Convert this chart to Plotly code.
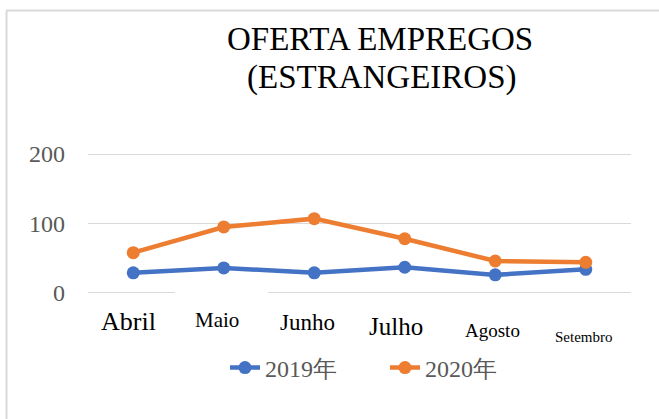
import plotly.graph_objects as go

months = ["Abril", "Maio", "Junho", "Julho", "Agosto", "Setembro"]
y2019 = [29, 36, 29, 37, 26, 34]
y2020 = [58, 95, 107, 78, 46, 44]
series_names = ["2019年", "2020年"]
y_ticks = [0, 100, 200]
title_lines = ["OFERTA EMPREGOS", "(ESTRANGEIROS)"]

# styling (not data)
label_sizes = [26, 21, 23, 25, 19, 15]
label_offsets = [-0.187, -0.173, -0.194, -0.223, -0.245, -0.295]
label_xshift = [-5, -7, -7, -9, -3, -2]
title_centers = [(380, 39), (382, 77)]
SERIF = "Liberation Serif, DejaVu Serif, Times New Roman, serif"

W, H = 659, 419
L, R, T, B = 88, 28, 152, 124
pw, ph = W - L - R, H - T - B


def px_x(p):
    return (p - L) / pw


def px_y(p):
    return (H - B - p) / ph


fig = go.Figure()
colors = ["#4472C4", "#ED7D31"]
for name, vals, c in zip(series_names, [y2019, y2020], colors):
    fig.add_trace(go.Scatter(
        x=months, y=vals, name=name, mode="lines+markers",
        line=dict(color=c, width=4.5),
        marker=dict(color=c, size=13),
        cliponaxis=False,
    ))

annotations = []
for m, s, off, xs in zip(months, label_sizes, label_offsets, label_xshift):
    annotations.append(dict(
        x=m, xref="x", y=off, yref="paper", text=m, showarrow=False,
        xanchor="center", yanchor="middle", xshift=xs,
        font=dict(family=SERIF, size=s, color="#000000"),
    ))
for line, (cx, cy) in zip(title_lines, title_centers):
    annotations.append(dict(
        x=px_x(cx), xref="paper", y=px_y(cy), yref="paper",
        text=line, showarrow=False,
        xanchor="center", yanchor="middle",
        font=dict(family=SERIF, size=33, color="#000000"),
    ))

shapes = [
    dict(type="line", xref="paper", yref="paper",
         x0=px_x(6), x1=px_x(659), y0=px_y(10.5), y1=px_y(10.5),
         line=dict(color="#d9d9d9", width=2)),
    dict(type="line", xref="paper", yref="paper",
         x0=px_x(6.5), x1=px_x(6.5), y0=px_y(10.5), y1=px_y(419),
         line=dict(color="#d9d9d9", width=2)),
    dict(type="rect", xref="x", yref="y", x0=0.46, x1=1.49, y0=-3, y1=3,
         fillcolor="white", line=dict(width=0), layer="above"),
]

fig.update_layout(
    width=W, height=H,
    margin=dict(l=L, r=R, t=T, b=B),
    paper_bgcolor="white", plot_bgcolor="white",
    showlegend=True,
    legend=dict(
        orientation="h", x=px_x(385), xanchor="center",
        y=px_y(368), yanchor="middle",
        font=dict(family=SERIF, size=24, color="#595959"),
        itemwidth=30, entrywidth=115, entrywidthmode="pixels",
    ),
    xaxis=dict(range=[-0.5, 5.5], showticklabels=False, showgrid=False,
               showline=False, zeroline=False, ticks=""),
    yaxis=dict(range=[-3, 203], tickvals=y_ticks, showgrid=True,
               gridcolor="#d9d9d9", gridwidth=1, zeroline=False,
               showline=False, ticks="", ticklabelstandoff=22,
               tickfont=dict(family=SERIF, size=24, color="#595959")),
    annotations=annotations,
    shapes=shapes,
)

fig.write_html("out.html", config={"displayModeBar": False},
               post_script="document.body.style.margin='0';document.body.style.overflow='hidden';")
